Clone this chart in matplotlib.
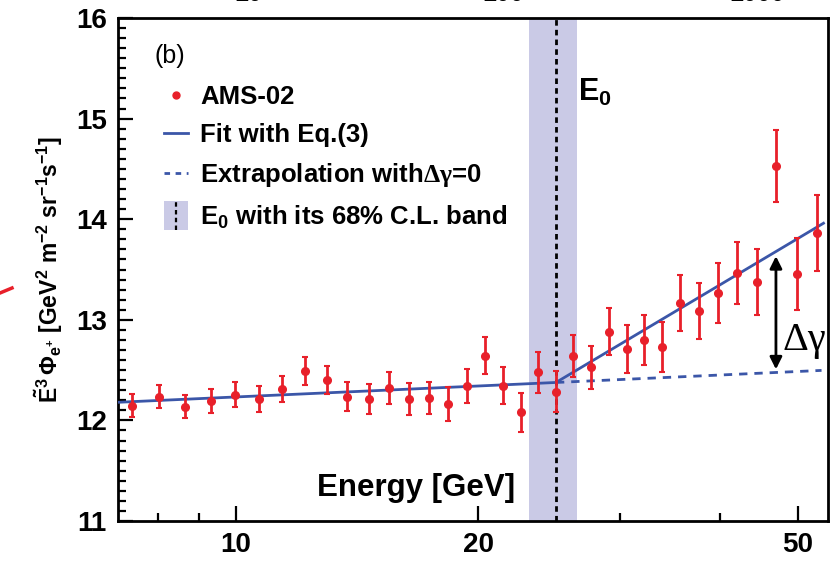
import matplotlib
matplotlib.use("Agg")
import matplotlib.pyplot as plt
from matplotlib.lines import Line2D
from matplotlib.patches import Rectangle
import numpy as np

# AMS-02 positron flux data
energy = [7.42, 8.01, 8.64, 9.30, 9.97, 10.67, 11.40, 12.17, 12.97, 13.74,
          14.62, 15.49, 16.41, 17.38, 18.34, 19.35, 20.40, 21.47, 22.61, 23.77,
          25.0, 26.28, 27.62, 29.08, 30.62, 32.20, 33.89, 35.66, 37.70, 39.72,
          41.96, 44.42, 46.95, 49.82, 52.77]
flux = [12.145, 12.235, 12.135, 12.195, 12.255, 12.215, 12.315, 12.494, 12.404, 12.235,
        12.215, 12.325, 12.215, 12.225, 12.165, 12.345, 12.643, 12.345, 12.079, 12.477,
        12.285, 12.638, 12.527, 12.882, 12.71, 12.80, 12.733, 13.168, 13.085, 13.268,
        13.467, 13.374, 14.529, 13.457, 13.862]
flux_err = [0.115, 0.115, 0.115, 0.12, 0.125, 0.13, 0.13, 0.14, 0.14, 0.145,
            0.15, 0.16, 0.16, 0.16, 0.17, 0.17, 0.185, 0.185, 0.19, 0.20,
            0.205, 0.21, 0.215, 0.235, 0.235, 0.25, 0.25, 0.28, 0.28, 0.30,
            0.31, 0.33, 0.355, 0.36, 0.375]

# fit (broken power law) and extrapolation
fit_E = [7.13, 25.0, 53.8]
fit_y = [12.18, 12.377, 13.96]
extra_E = [25.0, 53.5]
extra_y = [12.377, 12.497]

E0 = 25.0
E0_band = (23.14, 26.56)

# delta gamma arrow
dg_E = 46.95
dg_y = (12.48, 13.66)

red = "#e8202a"
blue = "#3b56a8"
band_col = "#cacae6"

plt.rcParams["font.family"] = "Liberation Sans"
plt.rcParams["font.weight"] = "bold"
plt.rcParams["axes.labelweight"] = "bold"
plt.rcParams["mathtext.fontset"] = "custom"
plt.rcParams["mathtext.rm"] = "Liberation Sans:bold"
plt.rcParams["mathtext.it"] = "Liberation Sans:bold"
plt.rcParams["mathtext.bf"] = "Liberation Sans:bold"
plt.rcParams["mathtext.sf"] = "Liberation Serif"
plt.rcParams["mathtext.default"] = "rm"

fig = plt.figure(figsize=(8.33, 5.62), dpi=100)
ax = fig.add_axes([118/833, 1-521/562, 710/833, 503/562])

ax.axvspan(*E0_band, color=band_col, lw=0, zorder=0)
ax.axvline(E0, color="k", lw=2, ls=(0, (2, 1.5)), zorder=1)

ax.plot(fit_E, fit_y, color=blue, lw=2, zorder=3)
ax.plot(extra_E, extra_y, color=blue, lw=2, ls=(0, (3, 2.5)), zorder=3)
ax.errorbar(energy, flux, yerr=flux_err, fmt="o", color=red, ms=5.5,
            elinewidth=2, capsize=2.5, capthick=1.5, zorder=4)

ax.annotate("", xy=(dg_E, dg_y[1]), xytext=(dg_E, dg_y[0]),
            arrowprops=dict(arrowstyle="<|-|>", color="k", lw=2,
                            mutation_scale=18), zorder=5)
ax.text(50.9, 12.79, "Δγ", family="Liberation Serif", fontweight="normal",
        fontsize=29, ha="center", va="center")

ax.text(26.6, 15.26, "E$_0$", fontsize=22, ha="left", va="center")
ax.text(0.052, 0.925, "(b)", transform=ax.transAxes, fontsize=18,
        fontweight="normal", ha="left", va="center")

ax.set_xscale("log")
ax.set_xlim(7.13, 54.5)
ax.set_ylim(11, 16)
ax.set_xticks([10, 20, 50])
ax.set_xticklabels(["10", "20", "50"])
ax.set_xticks([8, 9, 30, 40], minor=True)
ax.xaxis.set_minor_formatter(matplotlib.ticker.NullFormatter())
ax.set_yticks([11, 12, 13, 14, 15, 16])
ax.set_yticks(np.arange(11, 16.01, 0.1), minor=True)
ax.tick_params(which="both", direction="in", top=False, right=False,
               labelsize=20, width=1.6, pad=8)
ax.tick_params(which="major", length=11)
ax.tick_params(which="minor", length=6)
for s in ax.spines.values():
    s.set_linewidth(2)

ax.text(0.56, 0.065, "Energy [GeV]", transform=ax.transAxes, fontsize=22.5,
        ha="right", va="center")
ax.set_ylabel(r"$\tilde{E}^{3}\,\Phi_{e^{+}}$ [GeV$^{2}$ m$^{-2}$ sr$^{-1}$s$^{-1}$]",
              fontsize=16.5, labelpad=8)


class BandHandler:
    def legend_artist(self, legend, orig_handle, fontsize, handlebox):
        x0, y0 = handlebox.xdescent, handlebox.ydescent
        w, h = handlebox.width, handlebox.height
        tr = handlebox.get_transform()
        rect = Rectangle((x0, y0 - 0.3*h), w, 1.6*h, facecolor=band_col,
                         lw=0, transform=tr)
        ln = Line2D([x0 + w/2]*2, [y0 - 0.3*h, y0 + 1.3*h], color="k",
                    lw=1.6, ls=(0, (2, 1.5)), transform=tr)
        handlebox.add_artist(rect)
        handlebox.add_artist(ln)
        return rect


h_data = Line2D([], [], ls="none", marker="o", color=red, ms=5)
h_fit = Line2D([], [], color=blue, lw=2)
h_ext = Line2D([], [], color=blue, lw=2, ls=(0, (2, 2)))
h_band = Rectangle((0, 0), 1, 1)
ax.legend([h_data, h_fit, h_ext, h_band],
          ["AMS-02", "Fit with Eq.(3)", r"Extrapolation with$\mathsf{Δγ}$=0",
           "E$_0$ with its 68% C.L. band"],
          handler_map={Rectangle: BandHandler()},
          loc="upper left", bbox_to_anchor=(164/833, 1-85/562),
          bbox_transform=fig.transFigure, frameon=False, fontsize=18.5,
          borderpad=0, borderaxespad=0, handlelength=0.95, handletextpad=0.45,
          labelspacing=0.55)

# fragments from the panel above and a stray mark on the left
for xp, s in [(248, "10"), (503, "100"), (757, "1000")]:
    fig.text(xp/833, 1-6/562, s, fontsize=18, ha="center", va="bottom")
fig.add_artist(Line2D([0, 12/833], [1-293/562, 1-288/562], color=red, lw=2.5,
                      transform=fig.transFigure))

fig.savefig("out.png", dpi=100)
